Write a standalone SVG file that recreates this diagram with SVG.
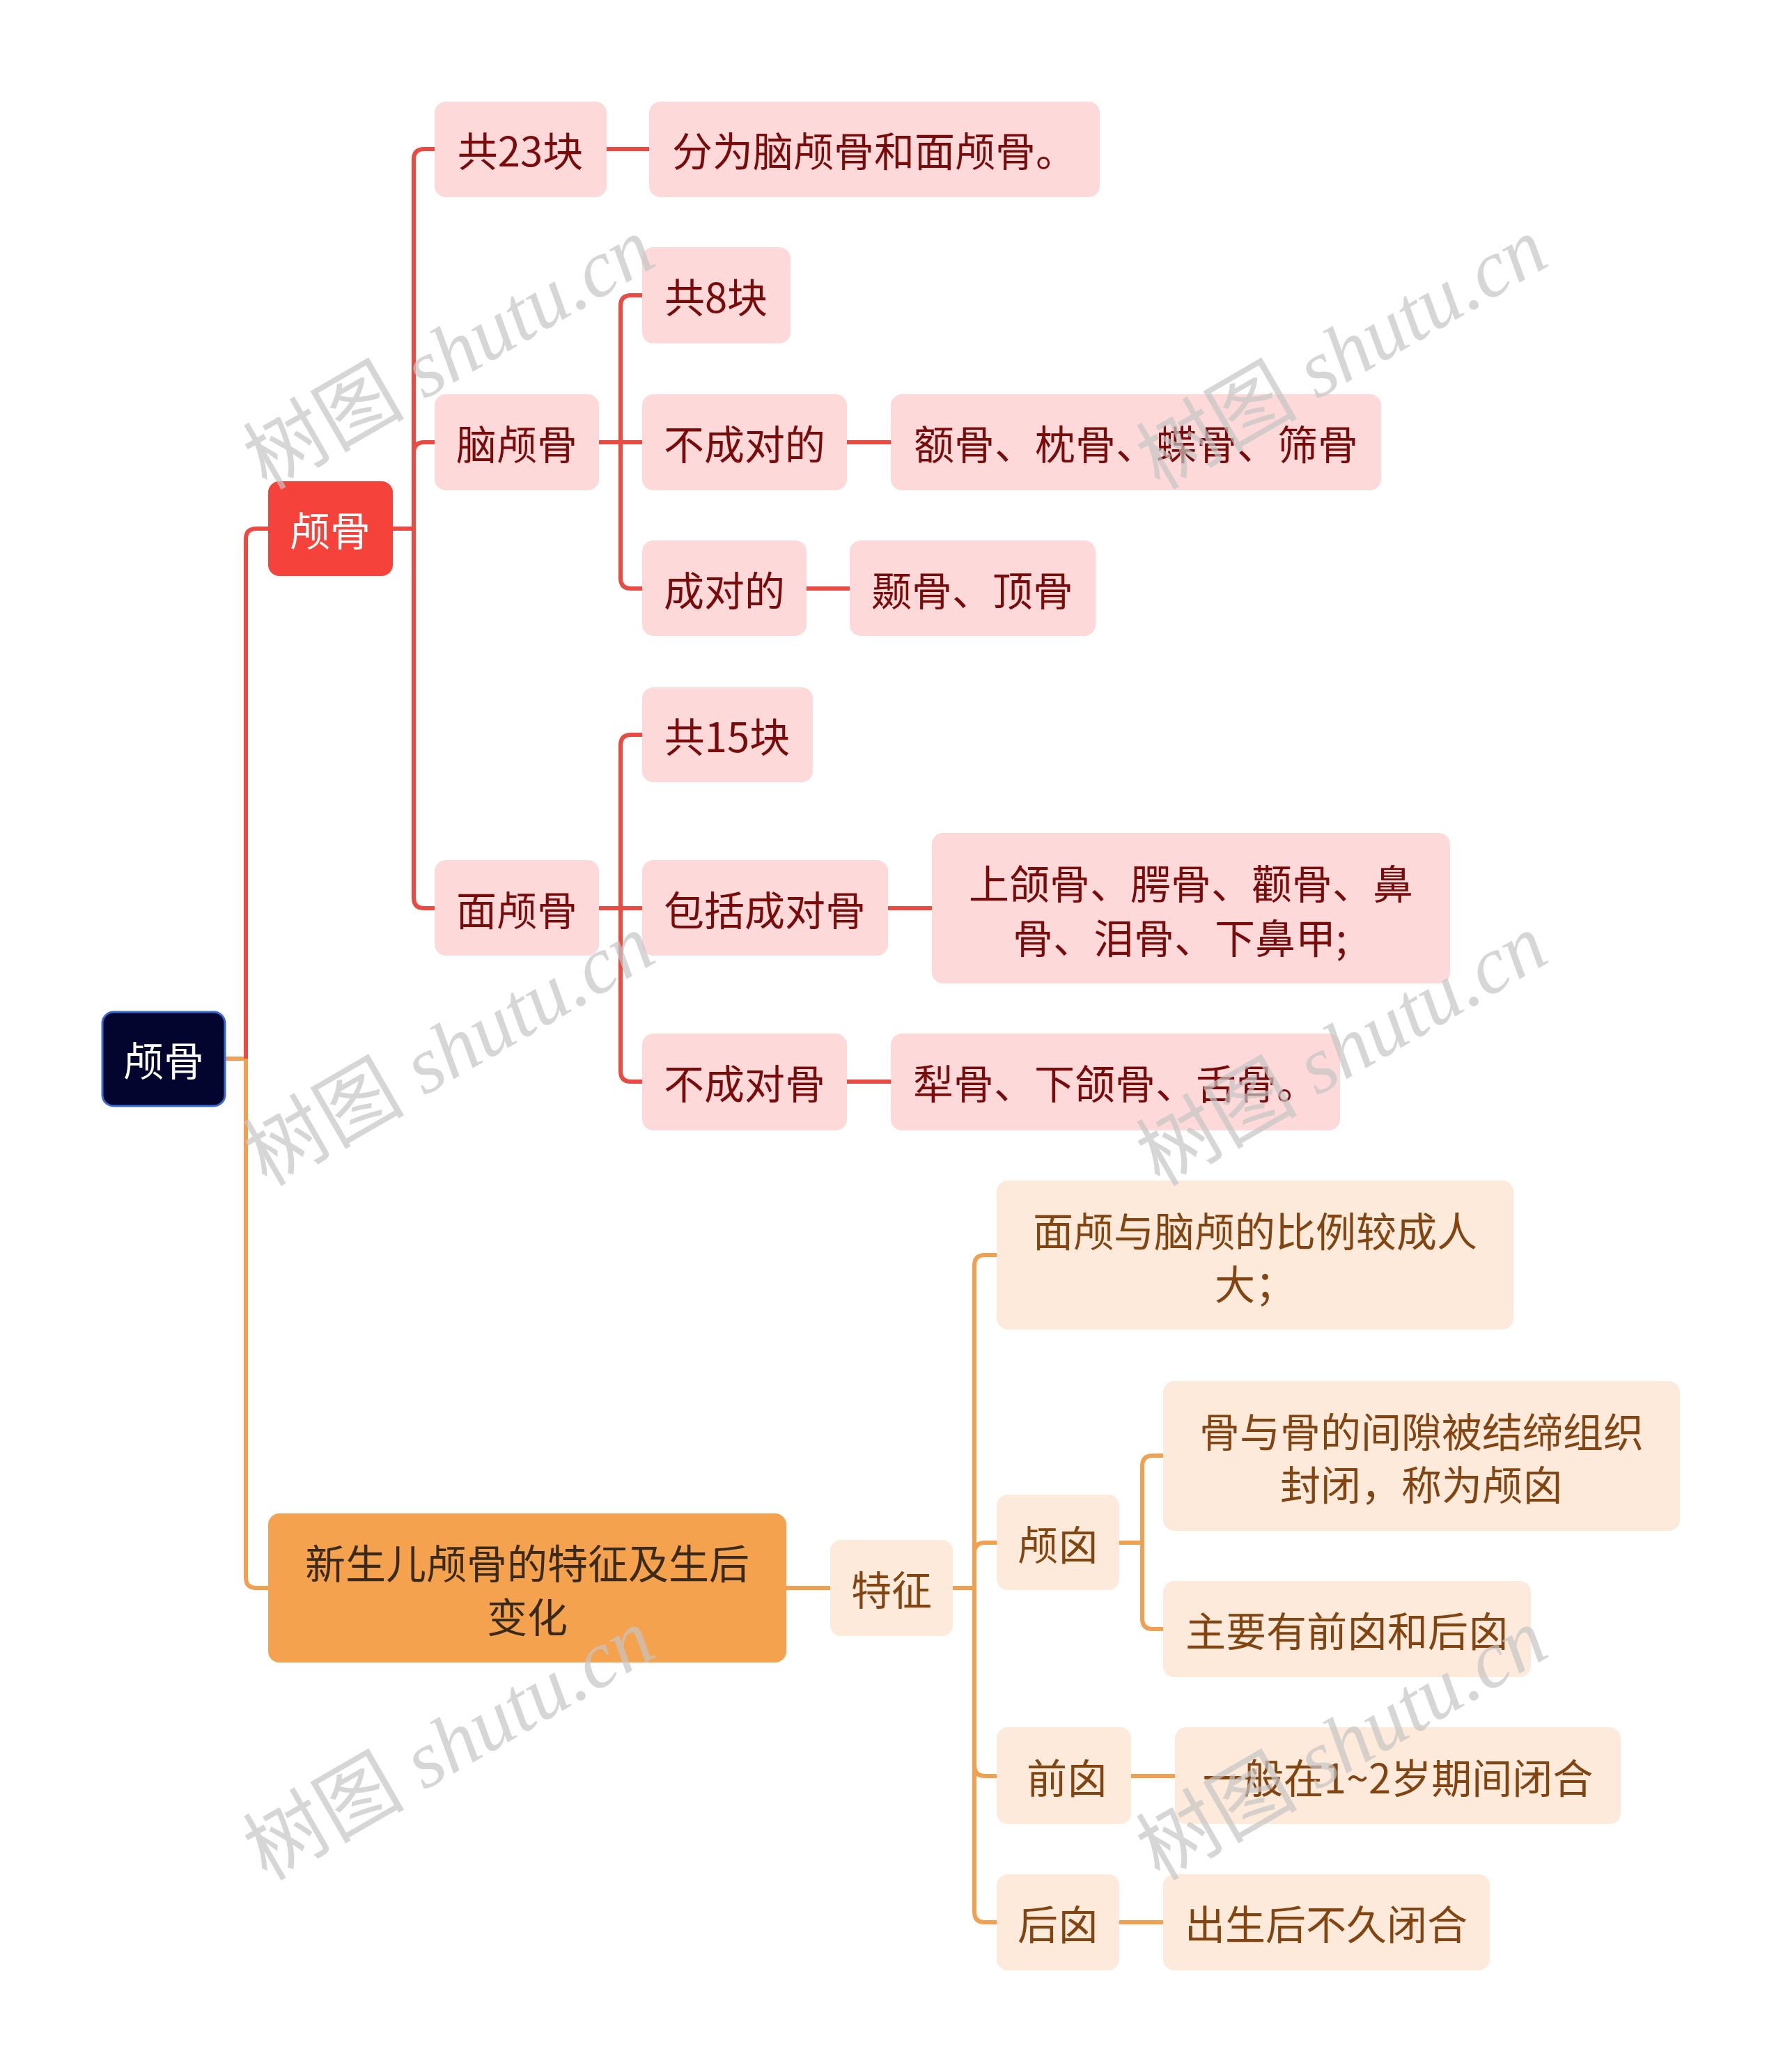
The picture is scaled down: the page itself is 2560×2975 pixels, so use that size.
<svg xmlns="http://www.w3.org/2000/svg" width="2560" height="2975" viewBox="0 0 2560 2975">
<style>
text{font-family:"Noto Sans CJK SC","Noto Sans",sans-serif;font-size:58px;text-anchor:middle;dominant-baseline:central}
.rb{fill:#fdd9d9}
.ob{fill:#fdeadb}
.rt{fill:#7a0b0b}
.ot{fill:#824410}
.rl{fill:none;stroke:#ea4a41;stroke-width:6}
.ol{fill:none;stroke:#f0a050;stroke-width:6}
.wm{font-family:"Liberation Serif","Noto Sans CJK SC",serif;font-size:116px;fill:#c4c4c4;fill-opacity:0.7}
.it{font-style:italic}
</style>
<rect width="2560" height="2975" fill="#ffffff"/>
<g id="connectors">
<path class="ol" d="M323,1520 H353"/>
<path class="rl" d="M353,1520 V774 Q353,759 368,759 H386"/>
<path class="ol" d="M353,1520 V2265 Q353,2280 368,2280 H386"/>
<path class="rl" d="M564,759 H594"/>
<path class="rl" d="M594,759 V229 Q594,214 609,214 H624"/>
<path class="rl" d="M594,759 V650 Q594,635 609,635 H624"/>
<path class="rl" d="M594,759 V1289 Q594,1304 609,1304 H624"/>
<path class="rl" d="M871,214 H932"/>
<path class="rl" d="M860,635 H922"/>
<path class="rl" d="M891,635 V439 Q891,424 906,424 H922"/>
<path class="rl" d="M891,635 V830 Q891,845 906,845 H922"/>
<path class="rl" d="M1216,635 H1279"/>
<path class="rl" d="M1158,845 H1220"/>
<path class="rl" d="M860,1304 H922"/>
<path class="rl" d="M891,1304 V1070 Q891,1055 906,1055 H922"/>
<path class="rl" d="M891,1304 V1538 Q891,1553 906,1553 H922"/>
<path class="rl" d="M1275,1304 H1338"/>
<path class="rl" d="M1216,1553 H1279"/>
<path class="ol" d="M1129,2280 H1192"/>
<path class="ol" d="M1368,2280 H1399"/>
<path class="ol" d="M1399,2280 V1817 Q1399,1802 1414,1802 H1431"/>
<path class="ol" d="M1399,2280 V2230 Q1399,2215 1414,2215 H1431"/>
<path class="ol" d="M1399,2280 V2535 Q1399,2550 1414,2550 H1431"/>
<path class="ol" d="M1399,2280 V2745 Q1399,2760 1414,2760 H1431"/>
<path class="ol" d="M1607,2215 H1640"/>
<path class="ol" d="M1640,2215 V2105 Q1640,2090 1655,2090 H1670"/>
<path class="ol" d="M1640,2215 V2324 Q1640,2339 1655,2339 H1670"/>
<path class="ol" d="M1624,2550 H1687"/>
<path class="ol" d="M1607,2760 H1670"/>
</g>
<g id="root"><rect x="147" y="1453" width="176" height="135" rx="16" fill="#03052e" stroke="#3a6bd0" stroke-width="3"/><text x="235" y="1520" fill="#ffffff">颅骨</text></g>
<g id="n-lugu"><rect x="385" y="691" width="179" height="136" rx="16" fill="#f5423b"/><text x="474" y="759" fill="#ffffff">颅骨</text></g>
<g id="n-newborn"><rect x="385" y="2173" width="744" height="214" rx="16" fill="#f4a24e"/><text x="757" y="2242" fill="#3a2a1c">新生儿颅骨的特征及生后</text><text x="757" y="2319" fill="#3a2a1c">变化</text></g>
<g id="n-23"><rect class="rb" x="624" y="146" width="247" height="137" rx="16"/><text class="rt" x="747" y="214">共23块</text></g>
<g id="n-fenwei"><rect class="rb" x="932" y="146" width="647" height="137" rx="16"/><text class="rt" x="1255" y="214">分为脑颅骨和面颅骨。</text></g>
<g id="n-naolu"><rect class="rb" x="624" y="566" width="236" height="138" rx="16"/><text class="rt" x="742" y="635">脑颅骨</text></g>
<g id="n-8"><rect class="rb" x="922" y="355" width="213" height="138" rx="16"/><text class="rt" x="1028" y="424">共8块</text></g>
<g id="n-bucheng1"><rect class="rb" x="922" y="566" width="294" height="138" rx="16"/><text class="rt" x="1069" y="635">不成对的</text></g>
<g id="n-egu"><rect class="rb" x="1279" y="566" width="704" height="138" rx="16"/><text class="rt" x="1631" y="635">额骨、枕骨、蝶骨、筛骨</text></g>
<g id="n-cheng1"><rect class="rb" x="922" y="776" width="236" height="137" rx="16"/><text class="rt" x="1040" y="845">成对的</text></g>
<g id="n-niegu"><rect class="rb" x="1220" y="776" width="353" height="137" rx="16"/><text class="rt" x="1396" y="845">颞骨、顶骨</text></g>
<g id="n-mianlu"><rect class="rb" x="624" y="1235" width="236" height="137" rx="16"/><text class="rt" x="742" y="1304">面颅骨</text></g>
<g id="n-15"><rect class="rb" x="922" y="987" width="245" height="136" rx="16"/><text class="rt" x="1044" y="1055">共15块</text></g>
<g id="n-baokuo"><rect class="rb" x="922" y="1235" width="353" height="137" rx="16"/><text class="rt" x="1098" y="1304">包括成对骨</text></g>
<g id="n-shanghe"><rect class="rb" x="1338" y="1196" width="744" height="216" rx="16"/><text class="rt" x="1710" y="1266">上颌骨、腭骨、颧骨、鼻</text><text class="rt" x="1694" y="1344">骨、泪骨、下鼻甲;</text></g>
<g id="n-bucheng2"><rect class="rb" x="922" y="1484" width="294" height="139" rx="16"/><text class="rt" x="1069" y="1553">不成对骨</text></g>
<g id="n-ligu"><rect class="rb" x="1279" y="1484" width="645" height="139" rx="16"/><text class="rt" x="1601" y="1553">犁骨、下颌骨、舌骨。</text></g>
<g id="n-tezheng"><rect class="ob" x="1192" y="2211" width="176" height="138" rx="16"/><text class="ot" x="1280" y="2280">特征</text></g>
<g id="n-bili"><rect class="ob" x="1431" y="1695" width="742" height="214" rx="16"/><text class="ot" x="1802" y="1765">面颅与脑颅的比例较成人</text><text class="ot" x="1802" y="1841">大；</text></g>
<g id="n-luxin"><rect class="ob" x="1431" y="2146" width="176" height="137" rx="16"/><text class="ot" x="1519" y="2215">颅囟</text></g>
<g id="n-gu"><rect class="ob" x="1670" y="1983" width="742" height="215" rx="16"/><text class="ot" x="2041" y="2053">骨与骨的间隙被结缔组织</text><text class="ot" x="2041" y="2129">封闭，称为颅囟</text></g>
<g id="n-zhuyao"><rect class="ob" x="1670" y="2270" width="528" height="138" rx="16"/><text class="ot" x="1934" y="2339">主要有前囟和后囟</text></g>
<g id="n-qianxin"><rect class="ob" x="1431" y="2480" width="193" height="139" rx="16"/><text class="ot" x="1532" y="2550">前囟</text></g>
<g id="n-yiban"><rect class="ob" x="1687" y="2480" width="640" height="139" rx="16"/><text class="ot" x="2007" y="2550">一般在1~2岁期间闭合</text></g>
<g id="n-houxin"><rect class="ob" x="1431" y="2691" width="176" height="138" rx="16"/><text class="ot" x="1519" y="2760">后囟</text></g>
<g id="n-chusheng"><rect class="ob" x="1670" y="2691" width="469" height="138" rx="16"/><text class="ot" x="1904" y="2760">出生后不久闭合</text></g>
<g id="watermarks">
<text class="wm" transform="translate(645,508) rotate(-30)">树图 <tspan class="it">shutu.cn</tspan></text>
<text class="wm" transform="translate(1927,508) rotate(-30)">树图 <tspan class="it">shutu.cn</tspan></text>
<text class="wm" transform="translate(645,1508) rotate(-30)">树图 <tspan class="it">shutu.cn</tspan></text>
<text class="wm" transform="translate(1927,1508) rotate(-30)">树图 <tspan class="it">shutu.cn</tspan></text>
<text class="wm" transform="translate(645,2505) rotate(-30)">树图 <tspan class="it">shutu.cn</tspan></text>
<text class="wm" transform="translate(1927,2505) rotate(-30)">树图 <tspan class="it">shutu.cn</tspan></text>
</g>
</svg>
